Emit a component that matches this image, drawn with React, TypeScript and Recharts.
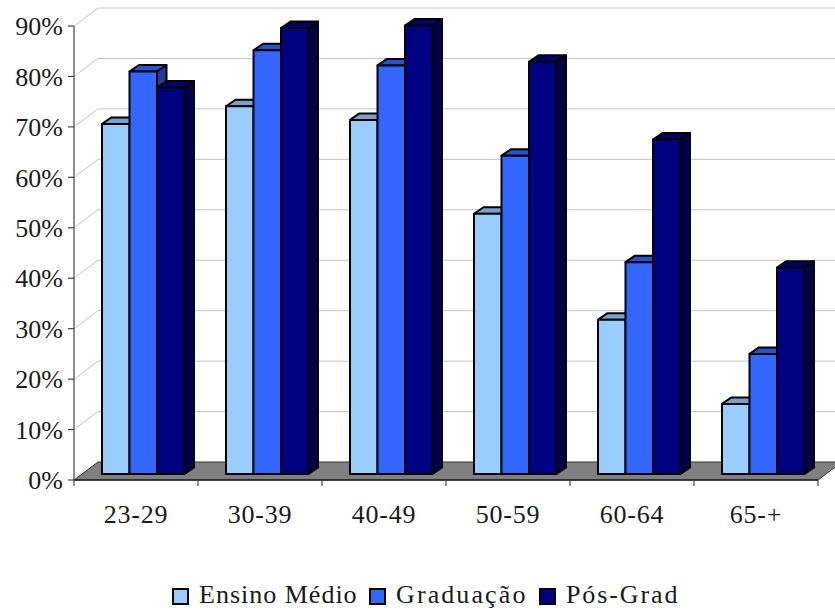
import React from "react";
import { BarChart, Bar, XAxis, YAxis, CartesianGrid, Legend } from "recharts";

const categories = ["23-29", "30-39", "40-49", "50-59", "60-64", "65-+"];
const ensinoMedio = [69.4, 72.9, 70.2, 51.6, 30.6, 13.9];
const graduacao = [79.8, 84.0, 81.0, 63.1, 42.0, 23.8];
const posGrad = [76.6, 88.4, 88.9, 81.7, 66.3, 40.9];
const yTicks = [0, 10, 20, 30, 40, 50, 60, 70, 80, 90];

const data = categories.map((c, i) => ({
  name: c,
  em: ensinoMedio[i],
  gr: graduacao[i],
  pg: posGrad[i],
}));

const FONT = "'Liberation Serif', serif";
const TEXT = "#1a1a1a";
const BACK_X = 24;
const BACK_Y = 18;
const DEPTH_X = 9.5;
const DEPTH_Y = 6.5;
const SHIFT_X = 7;
const SHIFT_Y = -6;
const BAND = 124;
const LEGEND_LEFT = [172, 369, 539];
const LEGEND_SPACING = [1.0, 2.1, 1.9];

const bar3d = (top: string, side: string) => (p: any) => {
  const x = p.x + SHIFT_X;
  const y = p.y + SHIFT_Y;
  const w = p.width;
  const h = p.height;
  const sw = { stroke: "#000", strokeWidth: 2, strokeLinejoin: "round" as const };
  return (
    <g>
      <polygon points={`${x},${y} ${x + DEPTH_X},${y - DEPTH_Y} ${x + w + DEPTH_X},${y - DEPTH_Y} ${x + w},${y}`} fill={top} {...sw} />
      <polygon points={`${x + w},${y} ${x + w + DEPTH_X},${y - DEPTH_Y} ${x + w + DEPTH_X},${y + h - DEPTH_Y} ${x + w},${y + h}`} fill={side} {...sw} />
      <rect x={x} y={y} width={w} height={h} fill={p.fill} {...sw} />
    </g>
  );
};

const gridLine = (p: any) => {
  const { x1, x2, y1 } = p;
  if (Math.abs(y1 - 480) < 1) {
    return (
      <polygon
        key="floor"
        points={`${x1},${y1} ${x1 + BACK_X},${y1 - BACK_Y} ${x2 + BACK_X},${y1 - BACK_Y} ${x2},${y1}`}
        fill="#808080"
        stroke="#333"
        strokeWidth={1}
      />
    );
  }
  return (
    <polyline
      key={y1}
      points={`${x1},${y1} ${x1 + BACK_X},${y1 - BACK_Y} ${x2 + BACK_X},${y1 - BACK_Y}`}
      fill="none"
      stroke="#c4c4c4"
      strokeWidth={1}
    />
  );
};

const XTick = (p: any) => {
  const { x, y, payload, index } = p;
  const mk = (tx: number) => <line x1={tx} x2={tx} y1={y} y2={y + 6} stroke="#444" strokeWidth={1.2} />;
  return (
    <g>
      {index === 0 && mk(x - BAND / 2)}
      {mk(x + BAND / 2)}
      <text x={x} y={y + 43} textAnchor="middle" fontFamily={FONT} fontSize={26} letterSpacing={0.8} fill={TEXT}>
        {payload.value}
      </text>
    </g>
  );
};

const LegendContent = (p: any) => (
  <div style={{ display: "flex", width: 835, fontFamily: FONT, fontSize: 26, color: TEXT, lineHeight: "30px" }}>
    {(p.payload || []).map((it: any, i: number) => (
      <div key={i} style={{ position: "absolute", left: LEGEND_LEFT[i], top: 0, display: "flex", alignItems: "center", whiteSpace: "nowrap", letterSpacing: LEGEND_SPACING[i] }}>
        <span style={{ display: "inline-block", width: 13, height: 13, background: it.color, border: "2px solid #000", marginRight: 10, position: "relative", top: 1 }} />
        {it.value}
      </div>
    ))}
  </div>
);

export default function App() {
  return (
    <div style={{ position: "absolute", left: 0, top: 0, width: 835, height: 610, overflow: "hidden" }}>
      <BarChart
        width={835}
        height={610}
        data={data}
        margin={{ top: 26, right: 17, bottom: 0, left: 0 }}
        barCategoryGap={20.75}
        barGap={0}
        barSize={27.5}
      >
        <CartesianGrid horizontal={gridLine} vertical={false} />
        <XAxis
          dataKey="name"
          height={130}
          interval={0}
          tick={XTick}
          tickLine={false}
          tickSize={0}
          tickMargin={0}
          axisLine={{ stroke: "#222", strokeWidth: 1.5 }}
        />
        <YAxis
          width={74}
          domain={[0, 90]}
          ticks={yTicks}
          interval={0}
          tickFormatter={(v: number) => `${v}%`}
          tick={{ fontFamily: FONT, fontSize: 26, fill: TEXT }}
          tickSize={6}
          tickMargin={5}
          tickLine={{ stroke: "#444", strokeWidth: 1.2 }}
          axisLine={{ stroke: "#444", strokeWidth: 1.2 }}
        />
        <Legend
          verticalAlign="middle"
          align="center"
          layout="horizontal"
          wrapperStyle={{ top: 580, left: 0, width: 835 }}
          content={LegendContent}
        />
        <Bar dataKey="em" name="Ensino Médio" fill="#99CCFF" isAnimationActive={false} shape={bar3d("#7AA3CC", "#5C7A99")} />
        <Bar dataKey="gr" name="Graduação" fill="#3366FF" isAnimationActive={false} shape={bar3d("#2952CC", "#1F3D99")} />
        <Bar dataKey="pg" name="Pós-Grad" fill="#000080" isAnimationActive={false} shape={bar3d("#000066", "#00004D")} />
      </BarChart>
    </div>
  );
}
